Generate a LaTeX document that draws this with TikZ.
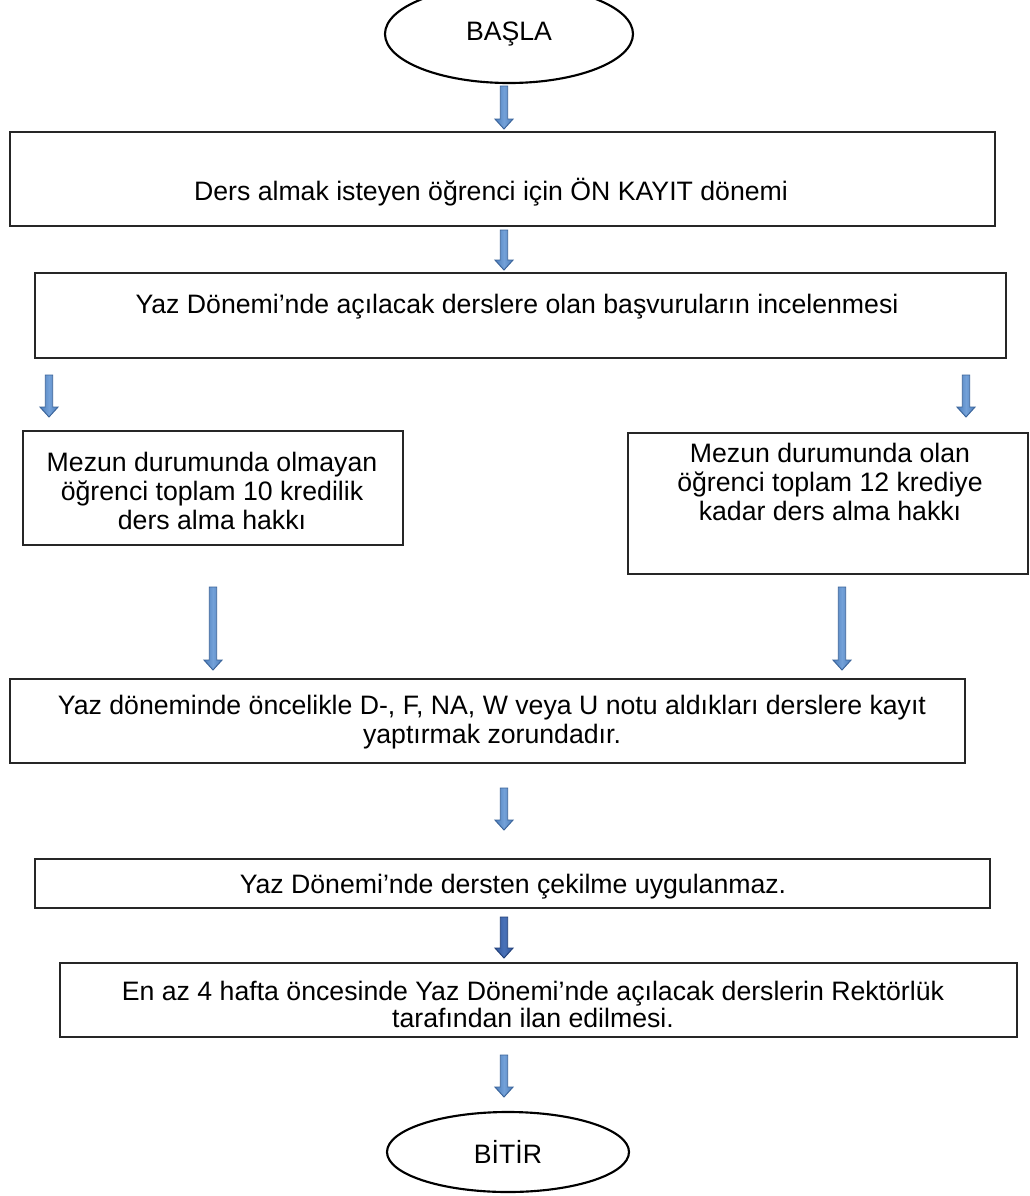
\documentclass[tikz,border=0pt]{standalone}
\usepackage{fontspec}
\setmainfont{Liberation Sans}
\usepackage{xcolor}
\usetikzlibrary{
    shapes.geometric,
    positioning
}
\definecolor{arrowfill}{HTML}{4A7CBB}
\definecolor{arrowlight}{HTML}{74A1D8}
\definecolor{arrowline}{HTML}{3A6399}
\definecolor{arrowdark}{HTML}{2F559B}
\definecolor{arrowdarklight}{HTML}{4A72B8}
\definecolor{arrowdarkline}{HTML}{213F78}
\newcommand{\px}{0.75pt}
% block arrow from #2 down to its tip #3
\newcommand{\blockarrow}[3][]{%
    \draw[barrow,#1] ([xshift=-2.8pt]#2) -- ([xshift=2.8pt]#2)
        -- ([xshift=2.8pt,yshift=7.5pt]#3) -- ([xshift=6.8pt,yshift=7.5pt]#3)
        -- (#3)
        -- ([xshift=-6.8pt,yshift=7.5pt]#3) -- ([xshift=-2.8pt,yshift=7.5pt]#3)
        -- cycle;}

\begin{document}
\begin{tikzpicture}[x=0.75pt, y=-0.75pt,
    box/.style={draw=black!85, line width=1pt, rectangle, inner sep=0pt},
    terminal/.style={draw=black, line width=1.6pt, ellipse, inner sep=0pt,
        font=\fontsize{20}{21.4}\selectfont},
    txt/.style={font=\fontsize{20}{21.4}\selectfont, align=center, anchor=base, inner sep=0pt},
    barrow/.style={draw=arrowline, line width=0.7pt,
        left color=arrowfill, right color=arrowfill, middle color=arrowlight},
    darkarrow/.style={draw=arrowdarkline,
        left color=arrowdark, right color=arrowdark, middle color=arrowdarklight}]
    \clip (0,0) rectangle (1030,1196);

    \node[terminal, minimum width=248*\px, minimum height=98*\px] (basla) at (509,34) {BAŞLA};

    % boxes; text nodes sit on the baseline of their last line
    \node[box, minimum width=985*\px, minimum height=94*\px] (onkayit) at (502.5,179) {};
    \node[txt] (onkayit-t) at (491,200) {Ders almak isteyen öğrenci için ÖN KAYIT dönemi};

    \node[box, minimum width=971*\px, minimum height=85*\px] (inceleme) at (520.5,315.5) {};
    \node[txt] (inceleme-t) at (517,313) {Yaz Dönemi’nde açılacak derslere olan başvuruların incelenmesi};

    \node[box, minimum width=380*\px, minimum height=114*\px] (mezundegil) at (213,488) {};
    \node[txt] (mezundegil-t) at (212,529) {Mezun durumunda olmayan\\öğrenci toplam 10 kredilik\\ders alma hakkı};

    \node[box, minimum width=400*\px, minimum height=141*\px] (mezun) at (828,503.5) {};
    \node[txt] (mezun-t) at (830,520) {Mezun durumunda olan\\öğrenci toplam 12 krediye\\kadar ders alma hakkı};

    \node[box, minimum width=955*\px, minimum height=84*\px] (kayit) at (487.5,721) {};
    \node[txt] (kayit-t) at (492,743) {Yaz döneminde öncelikle D-, F, NA, W veya U notu aldıkları derslere kayıt\\yaptırmak zorundadır.};

    \node[box, minimum width=955*\px, minimum height=49*\px] (cekilme) at (512.5,883.5) {};
    \node[txt] (cekilme-t) at (513,893) {Yaz Dönemi’nde dersten çekilme uygulanmaz.};

    \node[box, minimum width=957*\px, minimum height=74*\px] (ilan) at (538.5,1000) {};
    \node[txt, font=\fontsize{20}{15.5}\selectfont] (ilan-t) at (533,1027) {En az 4 hafta öncesinde Yaz Dönemi’nde açılacak derslerin Rektörlük\\tarafından ilan edilmesi.};

    \node[terminal, minimum width=242*\px, minimum height=80*\px] (bitir) at (508,1152) {BİTİR};

    % arrow ends
    \coordinate (b1) at (504,86);   \coordinate (e1) at (504,129);
    \coordinate (b2) at (504,230);  \coordinate (e2) at (504,270);
    \coordinate (b3) at (49,375);   \coordinate (e3) at (49,417);
    \coordinate (b4) at (966,375);  \coordinate (e4) at (966,417);
    \coordinate (b5) at (213,587);  \coordinate (e5) at (213,670);
    \coordinate (b6) at (842,587);  \coordinate (e6) at (842,670);
    \coordinate (b7) at (504,788);  \coordinate (e7) at (504,830);
    \coordinate (b8) at (504,917);  \coordinate (e8) at (504,958);
    \coordinate (b9) at (504,1055); \coordinate (e9) at (504,1097);

    \blockarrow{b1}{e1}
    \blockarrow{b2}{e2}
    \blockarrow{b3}{e3}
    \blockarrow{b4}{e4}
    \blockarrow{b5}{e5}
    \blockarrow{b6}{e6}
    \blockarrow{b7}{e7}
    \blockarrow[darkarrow]{b8}{e8}
    \blockarrow{b9}{e9}
\end{tikzpicture}
\end{document}
